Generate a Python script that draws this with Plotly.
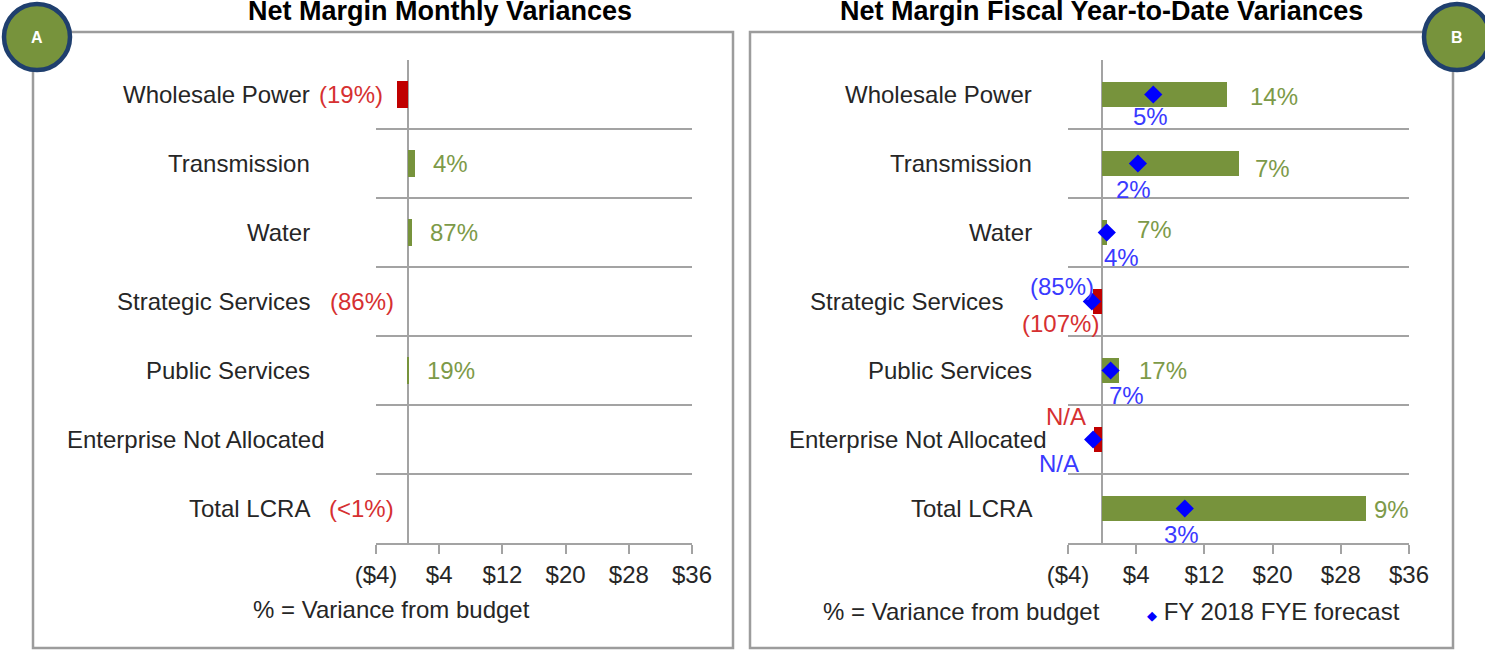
import plotly.graph_objects as go

categories = ["Wholesale Power", "Transmission", "Water", "Strategic Services",
              "Public Services", "Enterprise Not Allocated", "Total LCRA"]

# net margin variance, $ millions
monthly_var = [-1.3, 0.9, 0.5, 0.0, 0.15, 0.0, 0.0]
monthly_pct = ["(19%)", "4%", "87%", "(86%)", "19%", "", "(<1%)"]

ytd_var = [14.6, 16.0, 0.6, -1.05, 2.0, -0.9, 31.0]
ytd_pct = ["14%", "7%", "7%", "(107%)", "17%", "N/A", "9%"]

fye_forecast = [6.0, 4.2, 0.55, -1.2, 1.0, -1.05, 9.7]
fye_pct = ["5%", "2%", "4%", "(85%)", "7%", "N/A", "3%"]

tick_vals = [-4, 4, 12, 20, 28, 36]
tick_text = ["($4)", "$4", "$12", "$20", "$28", "$36"]

W, H = 1485, 650
FONT = "Liberation Sans, Arial, sans-serif"
RED_BAR, GREEN_BAR = "#c00000", "#77933c"
RED_TXT, GREEN_TXT, BLUE_TXT = "#d63031", "#7d9a48", "#3a3aff"
GRAY = "#a3a3a3"
DARK = "#262626"


def px(x):
    return x / W


def py(y):
    return 1 - y / H


def bar_colors(vals):
    return [RED_BAR if v < 0 else GREEN_BAR for v in vals]


fig = go.Figure()
fig.add_trace(go.Bar(x=monthly_var, y=categories, orientation="h", width=0.4,
                     marker=dict(color=bar_colors(monthly_var), line_width=0),
                     xaxis="x", yaxis="y", showlegend=False))
fig.add_trace(go.Bar(x=ytd_var, y=categories, orientation="h", width=0.37,
                     marker=dict(color=bar_colors(ytd_var), line_width=0),
                     xaxis="x2", yaxis="y2", showlegend=False))
fig.add_trace(go.Scatter(x=fye_forecast, y=categories, mode="markers",
                         marker=dict(symbol="diamond", size=14, color="#0000ff"),
                         xaxis="x2", yaxis="y2", showlegend=False))

xax = dict(range=[-4, 36], tickvals=tick_vals, ticktext=tick_text,
           ticks="outside", ticklen=9, tickwidth=1.5, tickcolor=GRAY,
           showline=True, linecolor=GRAY, linewidth=1.5,
           showgrid=False, zeroline=True, zerolinecolor=GRAY, zerolinewidth=1.5,
           tickfont=dict(size=24, color=DARK), ticklabelstandoff=0,
           automargin=False, fixedrange=True)
yax = dict(type="category", categoryorder="array", categoryarray=categories,
           range=[6.5, -0.5], tickson="boundaries", ticks="",
           showgrid=True, gridcolor=GRAY, gridwidth=1.5, automargin=False,
           showticklabels=False, zeroline=False, fixedrange=True,
           domain=[py(543), py(60)])

fig.update_layout(
    width=W, height=H, autosize=False,
    margin=dict(l=0, r=0, t=0, b=0, pad=0, autoexpand=False),
    paper_bgcolor="white", plot_bgcolor="white",
    font=dict(family=FONT, size=24, color=DARK),
    bargap=0, barmode="overlay",
    xaxis=dict(xax, domain=[px(376), px(692)], anchor="y"),
    yaxis=dict(yax, anchor="x"),
    xaxis2=dict(xax, domain=[px(1068), px(1409)], anchor="y2"),
    yaxis2=dict(yax, anchor="x2"),
)

ann = []

# category names, right aligned left of each plot
name_shift_a = {"Enterprise Not Allocated": -50}
name_shift_b = {"Strategic Services": -63, "Enterprise Not Allocated": -20}
for c in categories:
    ann.append(dict(xref="x domain", yref="y", x=0, y=c, text=c, showarrow=False,
                    xanchor="right", yanchor="middle", xshift=name_shift_a.get(c, -64)))
    ann.append(dict(xref="x2 domain", yref="y2", x=0, y=c, text=c, showarrow=False,
                    xanchor="right", yanchor="middle", xshift=name_shift_b.get(c, -34)))

# panel A variance percentages
for c, v, t in zip(categories, monthly_var, monthly_pct):
    if not t:
        continue
    if t.startswith("("):
        ann.append(dict(xref="x", yref="y", x=min(v, 0), y=c, text=t, showarrow=False,
                        xanchor="right", yanchor="middle", xshift=-12,
                        font=dict(color=RED_TXT)))
    else:
        ann.append(dict(xref="x", yref="y", x=v, y=c, text=t, showarrow=False,
                        xanchor="left", yanchor="middle", xshift=16,
                        font=dict(color=GREEN_TXT)))

# panel B variance percentages: (xanchor, xshift, yshift)
pct_spot = [("left", 21, -2), ("left", 14, -5), ("left", 28, 3), ("center", -33, -22),
            ("left", 18, 0), ("center", -28, 23), ("left", 6, -1)]
for c, v, t, (xa, dx, dy) in zip(categories, ytd_var, ytd_pct, pct_spot):
    ann.append(dict(xref="x2", yref="y2", x=v, y=c, text=t, showarrow=False,
                    xanchor=xa, yanchor="middle", xshift=dx, yshift=dy,
                    font=dict(color=RED_TXT if v < 0 else GREEN_TXT)))

# panel B forecast percentages
fye_spot = [(-3, -22), (-4, -26), (15, -25), (-30, 15), (16, -25), (-34, -24), (-3, -26)]
for c, v, t, (dx, dy) in zip(categories, fye_forecast, fye_pct, fye_spot):
    ann.append(dict(xref="x2", yref="y2", x=v, y=c, text=t, showarrow=False,
                    xanchor="center", yanchor="middle", xshift=dx, yshift=dy,
                    font=dict(color=BLUE_TXT)))


def paper_text(x, y, text, **kw):
    return dict(xref="paper", yref="paper", x=px(x), y=py(y), text=text,
                showarrow=False, xanchor=kw.pop("xanchor", "center"),
                yanchor="middle", **kw)


# titles, footnotes, badge letters
ann += [
    paper_text(440, 10.5, "<b>Net Margin Monthly Variances</b>",
               font=dict(size=27, color="black")),
    paper_text(1101, 10.5, "<b>Net Margin Fiscal Year-to-Date Variances</b>",
               font=dict(size=27, color="black")),
    paper_text(391, 609, "% = Variance from budget"),
    paper_text(961, 611, "% = Variance from budget"),
    paper_text(1145, 611,
               '<span style="color:#0000ff;font-size:13px">◆</span> FY 2018 FYE forecast',
               xanchor="left"),
    paper_text(37, 37, "<b>A</b>", font=dict(size=16, color="white")),
    paper_text(1457, 37, "<b>B</b>", font=dict(size=16, color="white")),
]
fig.update_layout(annotations=ann)

# panel frames and badges
frame = dict(type="rect", xref="paper", yref="paper", line=dict(color="#9c9c9c", width=2.5),
             fillcolor="rgba(0,0,0,0)", layer="below")
badge = dict(type="circle", xref="paper", yref="paper", fillcolor=GREEN_BAR,
             line=dict(color="#1f3f6e", width=4.5), layer="above")
fig.update_layout(shapes=[
    dict(frame, x0=px(33), x1=px(733), y0=py(648), y1=py(32)),
    dict(frame, x0=px(750), x1=px(1453), y0=py(648), y1=py(32)),
    dict(badge, x0=px(4), x1=px(70), y0=py(70), y1=py(4)),
    dict(badge, x0=px(1424), x1=px(1490), y0=py(70), y1=py(4)),
])

fig.write_html("out.html", config={"displayModeBar": False},
               post_script="document.body.style.margin='0';document.body.style.overflow='hidden';")
